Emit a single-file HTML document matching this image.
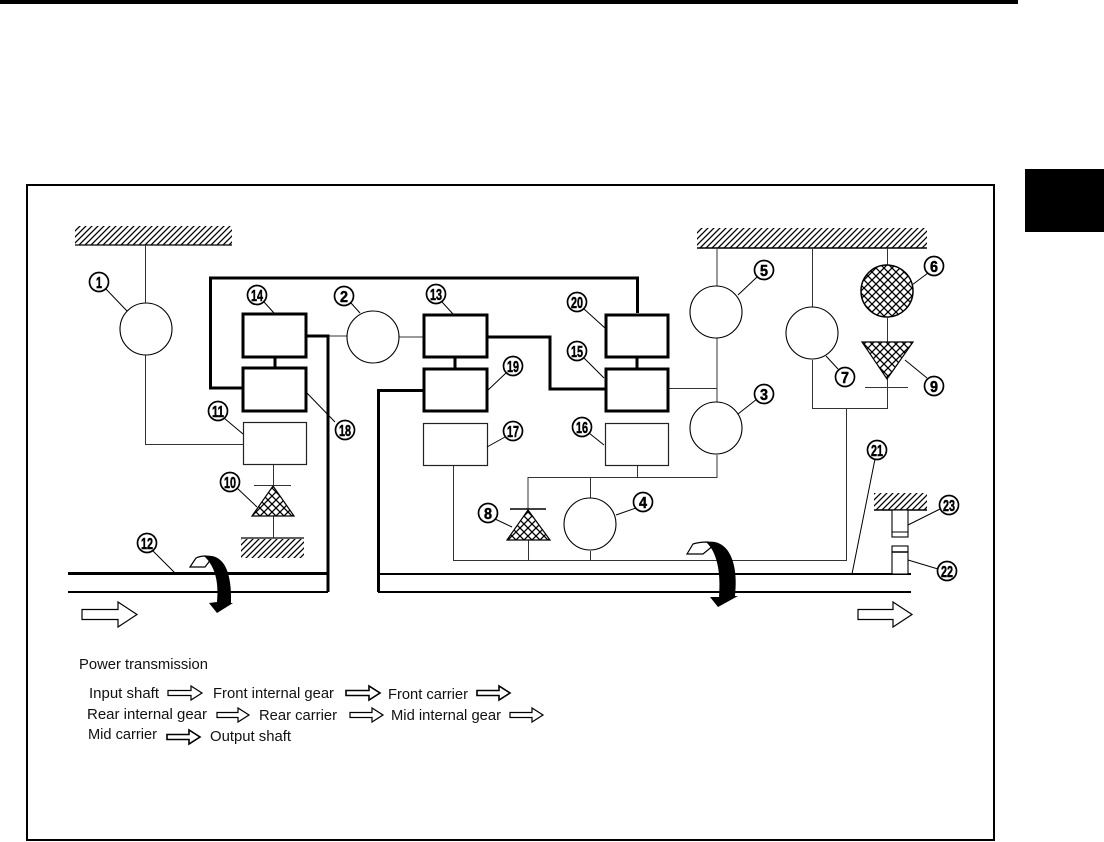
<!DOCTYPE html>
<html><head><meta charset="utf-8"><style>
html,body{margin:0;padding:0;background:#fff}
svg{display:block}
text{font-family:"Liberation Sans",sans-serif;fill:#111}
.l text{font-size:14.5px}
.n circle{fill:#fff;stroke:#000;stroke-width:1.7}
.n text{font-size:16px;font-weight:bold;text-anchor:middle;fill:#000;stroke:#000;stroke-width:.5}
.t{fill:none;stroke:#333;stroke-width:1}
.m{fill:none;stroke:#000;stroke-width:2}
.k{fill:none;stroke:#000;stroke-width:3}
.b{fill:#fff;stroke:#000;stroke-width:3}
.w{fill:#fff;stroke:#222;stroke-width:1.2}
.a{fill:#fff;stroke:#000;stroke-width:1.2}
</style></head><body>
<svg width="1104" height="842" viewBox="0 0 1104 842" xmlns="http://www.w3.org/2000/svg">
<defs>
<pattern id="h" width="6" height="6" patternUnits="userSpaceOnUse"><path d="M-1,7 L7,-1 M-1,1 L1,-1 M5,7 L7,5" stroke="#000" stroke-width="1.3"/></pattern>
<pattern id="x" width="8" height="8" patternUnits="userSpaceOnUse"><path d="M0,0 L8,8 M8,0 L0,8" stroke="#000" stroke-width="1.3"/></pattern>
</defs>
<rect x="0" y="0" width="1018" height="4" fill="#000"/>
<rect x="1025" y="169" width="79" height="63" fill="#000"/>
<rect x="27" y="185" width="967" height="655" fill="none" stroke="#000" stroke-width="2"/>

<!-- grounds -->
<rect x="75" y="226" width="157" height="19" fill="url(#h)"/><path d="M75,245H232" stroke="#000" stroke-width="1.2"/>
<rect x="241" y="539" width="63" height="19" fill="url(#h)"/><path d="M241,538H304" stroke="#000" stroke-width="1.2"/>
<rect x="697" y="228" width="230" height="20" fill="url(#h)"/><path d="M697,248H927" stroke="#000" stroke-width="1.5"/>
<rect x="874" y="493" width="53" height="17" fill="url(#h)"/><path d="M874,510H927" stroke="#000" stroke-width="1.5"/>

<!-- thin lines -->
<path class="t" d="M145.500,245V303M145.500,355V444.500H243"/>
<path class="t" d="M399,337H423M328,336H347"/>
<path class="t" d="M668,388.500H717M717,248V286M717,338V402M717,455V477.500H528V510M637.500,465V477M590.500,477V498M590.500,551V560M528.500,540V560"/>
<path class="t" d="M453.500,465V560.500H846.500V408M812.500,248V307M812.500,360V408.500H887.500V379M887.500,248V265M887.500,318V342"/>
<path class="t" d="M273.500,464V486M273.500,516V538"/>
<path class="t" d="M254,485.500H291M865,387.500H908"/>
<path d="M510,509H546" stroke="#000" stroke-width="1.4"/>

<!-- thick lines -->
<path class="k" d="M242,388H210.500V278H637.500V313"/>
<path class="k" d="M487,337H550V389H605"/>
<path class="k" d="M423,390.500H378.500V592"/>
<path class="k" d="M306,336H328V592"/>
<path class="k" d="M275,357V368M455,357V368M637,357V368"/>
<path class="m" d="M68,592H328M378,592H911"/>
<path class="k" d="M68,573.500H328"/>
<path class="m" d="M378,574H911"/>

<!-- boxes -->
<rect class="b" x="243" y="314" width="63" height="43"/>
<rect class="b" x="243" y="368" width="63" height="43"/>
<rect class="b" x="424" y="315" width="63" height="42"/>
<rect class="b" x="424" y="369" width="63" height="42"/>
<rect class="b" x="606" y="315" width="62" height="42"/>
<rect class="b" x="606" y="369" width="62" height="42"/>
<rect class="w" x="243.500" y="422.500" width="63" height="42"/>
<rect class="w" x="423.500" y="423.500" width="64" height="42"/>
<rect class="w" x="605.500" y="423.500" width="63" height="42"/>

<!-- circles -->
<g fill="#fff" stroke="#000" stroke-width="1.1">
<circle cx="146" cy="329" r="26"/>
<circle cx="373" cy="337" r="26"/>
<circle cx="716" cy="312" r="26"/>
<circle cx="716" cy="428" r="26"/>
<circle cx="812" cy="333" r="26"/>
<circle cx="590" cy="524" r="26"/>
</g>
<circle cx="887" cy="291" r="26" fill="#fff"/><circle cx="887" cy="291" r="26" fill="url(#x)" stroke="#000" stroke-width="1.5"/>

<!-- triangles -->
<path d="M273,486L294,516H252Z" fill="#fff"/><path d="M273,486L294,516H252Z" fill="url(#x)" stroke="#000" stroke-width="1.2"/>
<path d="M528,510L550,540H507Z" fill="#fff"/><path d="M528,510L550,540H507Z" fill="url(#x)" stroke="#000" stroke-width="1.2"/>
<path d="M862,342H913L887,379Z" fill="#fff"/><path d="M862,342H913L887,379Z" fill="url(#x)" stroke="#000" stroke-width="1.2"/>

<!-- clutch parts -->
<rect x="892" y="510" width="16" height="27" fill="#fff" stroke="#000" stroke-width="1.1"/><path d="M892,532H908" stroke="#000"/>
<rect x="892" y="546" width="16" height="28" fill="#fff" stroke="#000" stroke-width="1.1"/><path d="M892,552H908" stroke="#000" stroke-width="1.5"/>

<!-- leaders -->
<path fill="none" stroke="#000" stroke-width="1" d="M105,288L127,311M351,303L360,313M264,302L274,313M224,418L243,434M306,392L335,422M237,488L257,507M153,551L175,573M442,302L453,314M584,309L605,328M584,358L604,378M506,373L487,391M505,437L487,447M589,433L604,445M495,519L512,527M636,508L616,515M757,277L738,295M928,273L912,285M838,369L826,356M927,378L905,360M757,399L738,414M875,459L852,574M940,509L908,525M938,569L908,560"/>

<!-- rotation arrows -->
<path d="M190,567L196,558C198,557 202,556 206,556L212,558L205,567Z" class="a"/>
<path d="M204,556C223,553 232,570 231,603L233,603L217,613L209,603L217,602C219,582 215,566 204,556Z" fill="#000"/>
<path d="M687,554L693,544C696,543 702,542 708,542L714,545L703,554Z" class="a"/>
<path d="M706,542C728,538 739,562 735,596L738,596L718,607L710,597L719,597C721,572 717,552 706,542Z" fill="#000"/>

<!-- flow arrows -->
<path class="a" stroke-width="1.5" d="M82,609.500H118V602L137,614.500L118,627V619.500H82Z"/>
<path class="a" stroke-width="1.5" d="M858,609.500H893V602L912,614.500L893,627V619.500H858Z"/>
<g class="a">
<path d="M168,690.500H191V686L202,693L191,700V695.500H168Z"/>
<path d="M346,690.500H369V686L380,693L369,700V695.500H346Z" stroke-width="1.6"/>
<path d="M477,690.500H499V686L510,693L499,700V695.500H477Z" stroke-width="1.6"/>
<path d="M217,712.500H238V708L249,715L238,722V717.500H217Z"/>
<path d="M350,712.500H372V708L383,715L372,722V717.500H350Z"/>
<path d="M510,712.500H532V708L543,715L532,722V717.500H510Z"/>
<path d="M167,734.500H189V730L200,737L189,744V739.500H167Z" stroke-width="1.6"/>
</g>

<!-- legend -->
<g class="l">
<text x="79" y="669" textLength="129" lengthAdjust="spacingAndGlyphs">Power transmission</text>
<text x="89" y="698" textLength="70" lengthAdjust="spacingAndGlyphs">Input shaft</text>
<text x="213" y="698" textLength="121" lengthAdjust="spacingAndGlyphs">Front internal gear</text>
<text x="388" y="699" textLength="80" lengthAdjust="spacingAndGlyphs">Front carrier</text>
<text x="87" y="719" textLength="120" lengthAdjust="spacingAndGlyphs">Rear internal gear</text>
<text x="259" y="720" textLength="78" lengthAdjust="spacingAndGlyphs">Rear carrier</text>
<text x="391" y="720" textLength="110" lengthAdjust="spacingAndGlyphs">Mid internal gear</text>
<text x="88" y="739" textLength="69" lengthAdjust="spacingAndGlyphs">Mid carrier</text>
<text x="210" y="741" textLength="81" lengthAdjust="spacingAndGlyphs">Output shaft</text>
</g>

<!-- numbered callouts -->
<g class="n">
<circle cx="99" cy="282" r="9.500"/><text x="99" y="288" textLength="6" lengthAdjust="spacingAndGlyphs">1</text>
<circle cx="344" cy="296" r="9.500"/><text x="344" y="302" textLength="8" lengthAdjust="spacingAndGlyphs">2</text>
<circle cx="764" cy="394" r="9.500"/><text x="764" y="400" textLength="8" lengthAdjust="spacingAndGlyphs">3</text>
<circle cx="643" cy="502" r="9.500"/><text x="643" y="508" textLength="8" lengthAdjust="spacingAndGlyphs">4</text>
<circle cx="764" cy="270" r="9.500"/><text x="764" y="276" textLength="8" lengthAdjust="spacingAndGlyphs">5</text>
<circle cx="934" cy="266" r="9.500"/><text x="934" y="272" textLength="8" lengthAdjust="spacingAndGlyphs">6</text>
<circle cx="845" cy="377" r="9.500"/><text x="845" y="383" textLength="8" lengthAdjust="spacingAndGlyphs">7</text>
<circle cx="488" cy="513" r="9.500"/><text x="488" y="519" textLength="8" lengthAdjust="spacingAndGlyphs">8</text>
<circle cx="934" cy="386" r="9.500"/><text x="934" y="392" textLength="8" lengthAdjust="spacingAndGlyphs">9</text>
<circle cx="230" cy="482" r="9.500"/><text x="230" y="488" textLength="12" lengthAdjust="spacingAndGlyphs">10</text>
<circle cx="218" cy="411" r="9.500"/><text x="218" y="417" textLength="12" lengthAdjust="spacingAndGlyphs">11</text>
<circle cx="147" cy="543" r="9.500"/><text x="147" y="549" textLength="12" lengthAdjust="spacingAndGlyphs">12</text>
<circle cx="436" cy="294" r="9.500"/><text x="436" y="300" textLength="12" lengthAdjust="spacingAndGlyphs">13</text>
<circle cx="257" cy="295" r="9.500"/><text x="257" y="301" textLength="12" lengthAdjust="spacingAndGlyphs">14</text>
<circle cx="577" cy="351" r="9.500"/><text x="577" y="357" textLength="12" lengthAdjust="spacingAndGlyphs">15</text>
<circle cx="582" cy="427" r="9.500"/><text x="582" y="433" textLength="12" lengthAdjust="spacingAndGlyphs">16</text>
<circle cx="513" cy="431" r="9.500"/><text x="513" y="437" textLength="12" lengthAdjust="spacingAndGlyphs">17</text>
<circle cx="345" cy="430" r="9.500"/><text x="345" y="436" textLength="12" lengthAdjust="spacingAndGlyphs">18</text>
<circle cx="513" cy="366" r="9.500"/><text x="513" y="372" textLength="12" lengthAdjust="spacingAndGlyphs">19</text>
<circle cx="577" cy="302" r="9.500"/><text x="577" y="308" textLength="12" lengthAdjust="spacingAndGlyphs">20</text>
<circle cx="877" cy="450" r="9.500"/><text x="877" y="456" textLength="12" lengthAdjust="spacingAndGlyphs">21</text>
<circle cx="947" cy="571" r="9.500"/><text x="947" y="577" textLength="12" lengthAdjust="spacingAndGlyphs">22</text>
<circle cx="949" cy="505" r="9.500"/><text x="949" y="511" textLength="12" lengthAdjust="spacingAndGlyphs">23</text>
</g>
</svg>
</body></html>
